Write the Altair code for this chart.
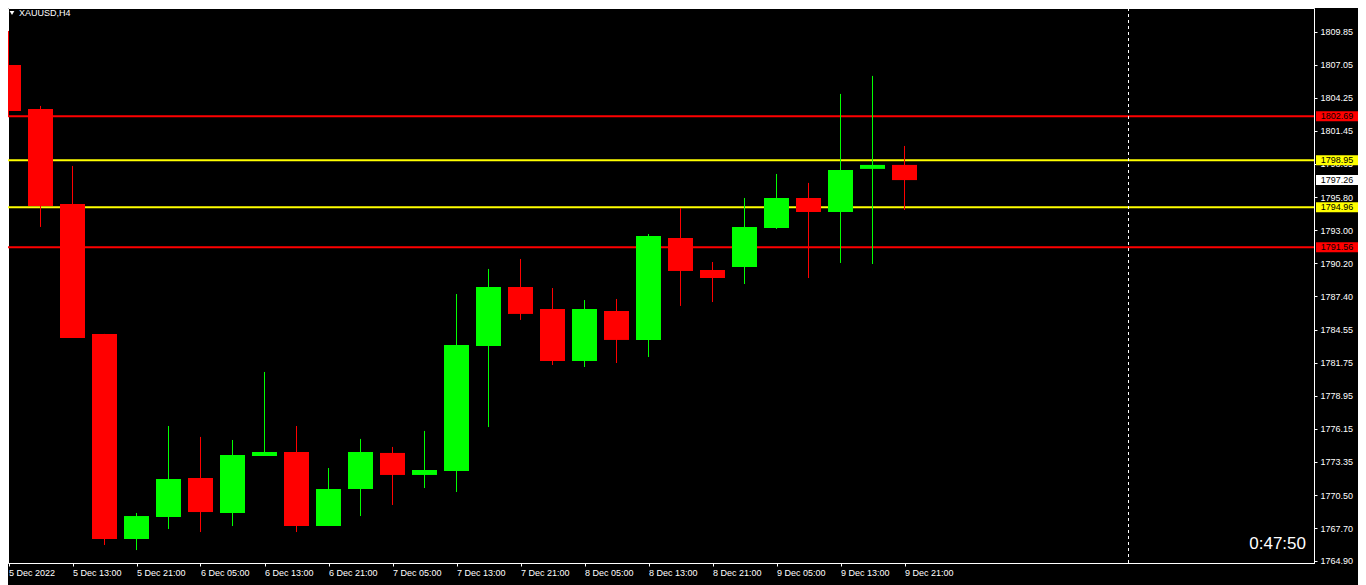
import json
import altair as alt
import pandas as pd

# ---------------- data ----------------
symbol_title = "XAUUSD,H4"
countdown = "0:47:50"

tick_labels = ["5 Dec 2022", "5 Dec 13:00", "5 Dec 21:00", "6 Dec 05:00", "6 Dec 13:00",
               "6 Dec 21:00", "7 Dec 05:00", "7 Dec 13:00", "7 Dec 21:00", "8 Dec 05:00",
               "8 Dec 13:00", "8 Dec 21:00", "9 Dec 05:00", "9 Dec 13:00", "9 Dec 21:00"]

opens = [1807.04, 1803.30, 1795.23, 1784.19, 1766.77, 1768.64, 1771.95, 1768.98, 1773.82, 1774.16,
         1767.87, 1771.02, 1774.08, 1772.21, 1772.55, 1783.17, 1788.18, 1786.31, 1781.89, 1786.14,
         1783.68, 1792.34, 1789.62, 1789.88, 1793.19, 1795.74, 1794.55, 1798.21, 1798.55]
highs = [1809.93, 1803.56, 1798.46, 1784.19, 1768.98, 1776.37, 1775.44, 1775.18, 1780.96, 1776.37,
         1772.80, 1775.27, 1774.59, 1775.95, 1787.58, 1789.71, 1790.56, 1788.09, 1787.07, 1787.16,
         1792.68, 1794.89, 1790.30, 1795.74, 1797.78, 1797.02, 1804.58, 1806.11, 1800.16]
lows = [1802.62, 1793.28, 1783.85, 1766.26, 1765.83, 1767.62, 1767.36, 1767.87, 1773.82, 1767.36,
        1767.87, 1768.72, 1769.66, 1771.10, 1770.76, 1776.28, 1785.38, 1781.55, 1781.38, 1781.72,
        1782.23, 1786.57, 1786.90, 1788.43, 1793.11, 1788.94, 1790.22, 1790.13, 1794.72]
closes = [1803.13, 1795.06, 1783.85, 1766.77, 1768.72, 1771.87, 1769.06, 1773.91, 1774.16, 1767.87,
          1771.02, 1774.16, 1772.21, 1772.63, 1783.25, 1788.18, 1785.89, 1781.89, 1786.31, 1783.68,
          1792.51, 1789.54, 1788.94, 1793.28, 1795.74, 1794.55, 1798.12, 1798.55, 1797.26]

price_ticks = [1809.85, 1807.05, 1804.25, 1801.45, 1798.65, 1795.80, 1793.00, 1790.20, 1787.40,
               1784.55, 1781.75, 1778.95, 1776.15, 1773.35, 1770.50, 1767.70, 1764.90]

level_prices = [1802.69, 1798.95, 1794.96, 1791.56]
level_kinds = ["resistance", "support_hi", "support_lo", "floor"]

tag_prices = [1802.69, 1798.95, 1797.26, 1794.96, 1791.56]
tag_kinds = ["resistance", "support_hi", "bid", "support_lo", "floor"]

separator_at = [35.0]

# ---------------- layout ----------------
W, H = 1306, 555
PAD_R, PAD_B = 44, 22
FONT = "Liberation Sans"
x_domain = [-0.5 / 32.0, (W - 0.5) / 32.0]
y_domain = [1764.73, 1811.88]

candles = pd.DataFrame({
    "idx": list(range(len(opens))),
    "open": opens, "high": highs, "low": lows, "close": closes,
})

levels = pd.DataFrame({"price": level_prices, "kind": level_kinds})
tags = pd.DataFrame({"price": tag_prices, "kind": tag_kinds,
                     "label": [f"{p:.2f}" for p in tag_prices]})
sep = pd.DataFrame({"v": separator_at})
texts = pd.DataFrame({"title": [symbol_title], "count": [countdown]})

xscale = alt.Scale(domain=x_domain, nice=False, zero=False, padding=0)
yscale = alt.Scale(domain=y_domain, nice=False, zero=False, padding=0)

label_expr = json.dumps(tick_labels) + "[round(datum.value / 2)]"
xaxis = alt.Axis(values=list(range(0, len(opens), 2)), labelExpr=label_expr, title=None,
                 labelAlign="left", labelPadding=2, labelFlush=False, labelOverlap=False,
                 tickSize=3, domainColor="#ffffff", tickColor="#ffffff", labelColor="#ffffff",
                 labelFont=FONT, labelFontSize=9, grid=False, zindex=0)
yaxis = alt.Axis(values=price_ticks, format=".2f", orient="right", title=None,
                 labelPadding=3, labelFlush=False, labelOverlap=False, tickSize=3,
                 domainColor="#ffffff", tickColor="#ffffff", labelColor="#ffffff",
                 labelFont=FONT, labelFontSize=9, grid=False, zindex=0)

candle_color = alt.condition("datum.close >= datum.open",
                             alt.value("#00ff00"), alt.value("#ff0000"))
level_color = alt.Color("kind:N", scale=alt.Scale(
    domain=["resistance", "support_hi", "support_lo", "floor", "bid"],
    range=["#ff0000", "#ffff00", "#ffff00", "#ff0000", "#ffffff"]), legend=None)

base = alt.Chart(candles)

wicks = base.mark_rule(clip=True, strokeWidth=1).encode(
    x=alt.X("idx:Q", scale=xscale, axis=xaxis),
    y=alt.Y("low:Q", scale=yscale, axis=yaxis),
    y2="high:Q",
    color=candle_color,
)
bodies = base.mark_bar(size=25, clip=True).encode(
    x=alt.X("idx:Q", scale=xscale, axis=xaxis),
    y=alt.Y("open:Q", scale=yscale, axis=yaxis),
    y2="close:Q",
    color=candle_color,
)

level_lines = alt.Chart(levels).mark_rule(strokeWidth=2).encode(
    x=alt.value(0), x2=alt.value(W),
    y=alt.Y("price:Q", scale=yscale, axis=yaxis),
    color=level_color,
)

sep_line = alt.Chart(sep).mark_rule(strokeDash=[3, 3], strokeWidth=1, color="#ffffff").encode(
    x=alt.X("v:Q", scale=xscale, axis=xaxis),
    y=alt.value(0), y2=alt.value(H),
)

tag_boxes = alt.Chart(tags).mark_rect(yOffset=-5, y2Offset=5).encode(
    x=alt.value(W + 2), x2=alt.value(W + 44),
    y=alt.Y("price:Q", scale=yscale, axis=yaxis),
    y2="price:Q",
    color=level_color,
)
tag_text = alt.Chart(tags).mark_text(font=FONT, fontSize=9, color="#000000",
                                     align="center", baseline="middle").encode(
    x=alt.value(W + 23),
    y=alt.Y("price:Q", scale=yscale, axis=yaxis),
    text="label:N",
)

title_tri = alt.Chart(texts).mark_point(shape="triangle-down", filled=True, size=22,
                                        color="#ffffff", opacity=1).encode(
    x=alt.value(4), y=alt.value(5),
)
title_text = alt.Chart(texts).mark_text(font=FONT, fontSize=9, color="#ffffff",
                                        align="left", baseline="top").encode(
    x=alt.value(11), y=alt.value(1), text="title:N",
)
count_text = alt.Chart(texts).mark_text(font=FONT, fontSize=17, color="#ffffff",
                                        align="right", baseline="middle").encode(
    x=alt.value(W - 8), y=alt.value(H - 19), text="count:N",
)

chart = alt.layer(
    level_lines, sep_line, wicks, bodies, tag_boxes, tag_text, title_tri, title_text, count_text
).properties(
    width=W, height=H,
    autosize=alt.AutoSizeParams(type="none"),
    padding={"left": 0, "top": 0, "right": PAD_R, "bottom": PAD_B},
).configure(
    background="#000000"
).configure_view(
    stroke="#ffffff", strokeWidth=1
)

chart.save("out.html", embed_options={"renderer": "svg", "actions": False})
